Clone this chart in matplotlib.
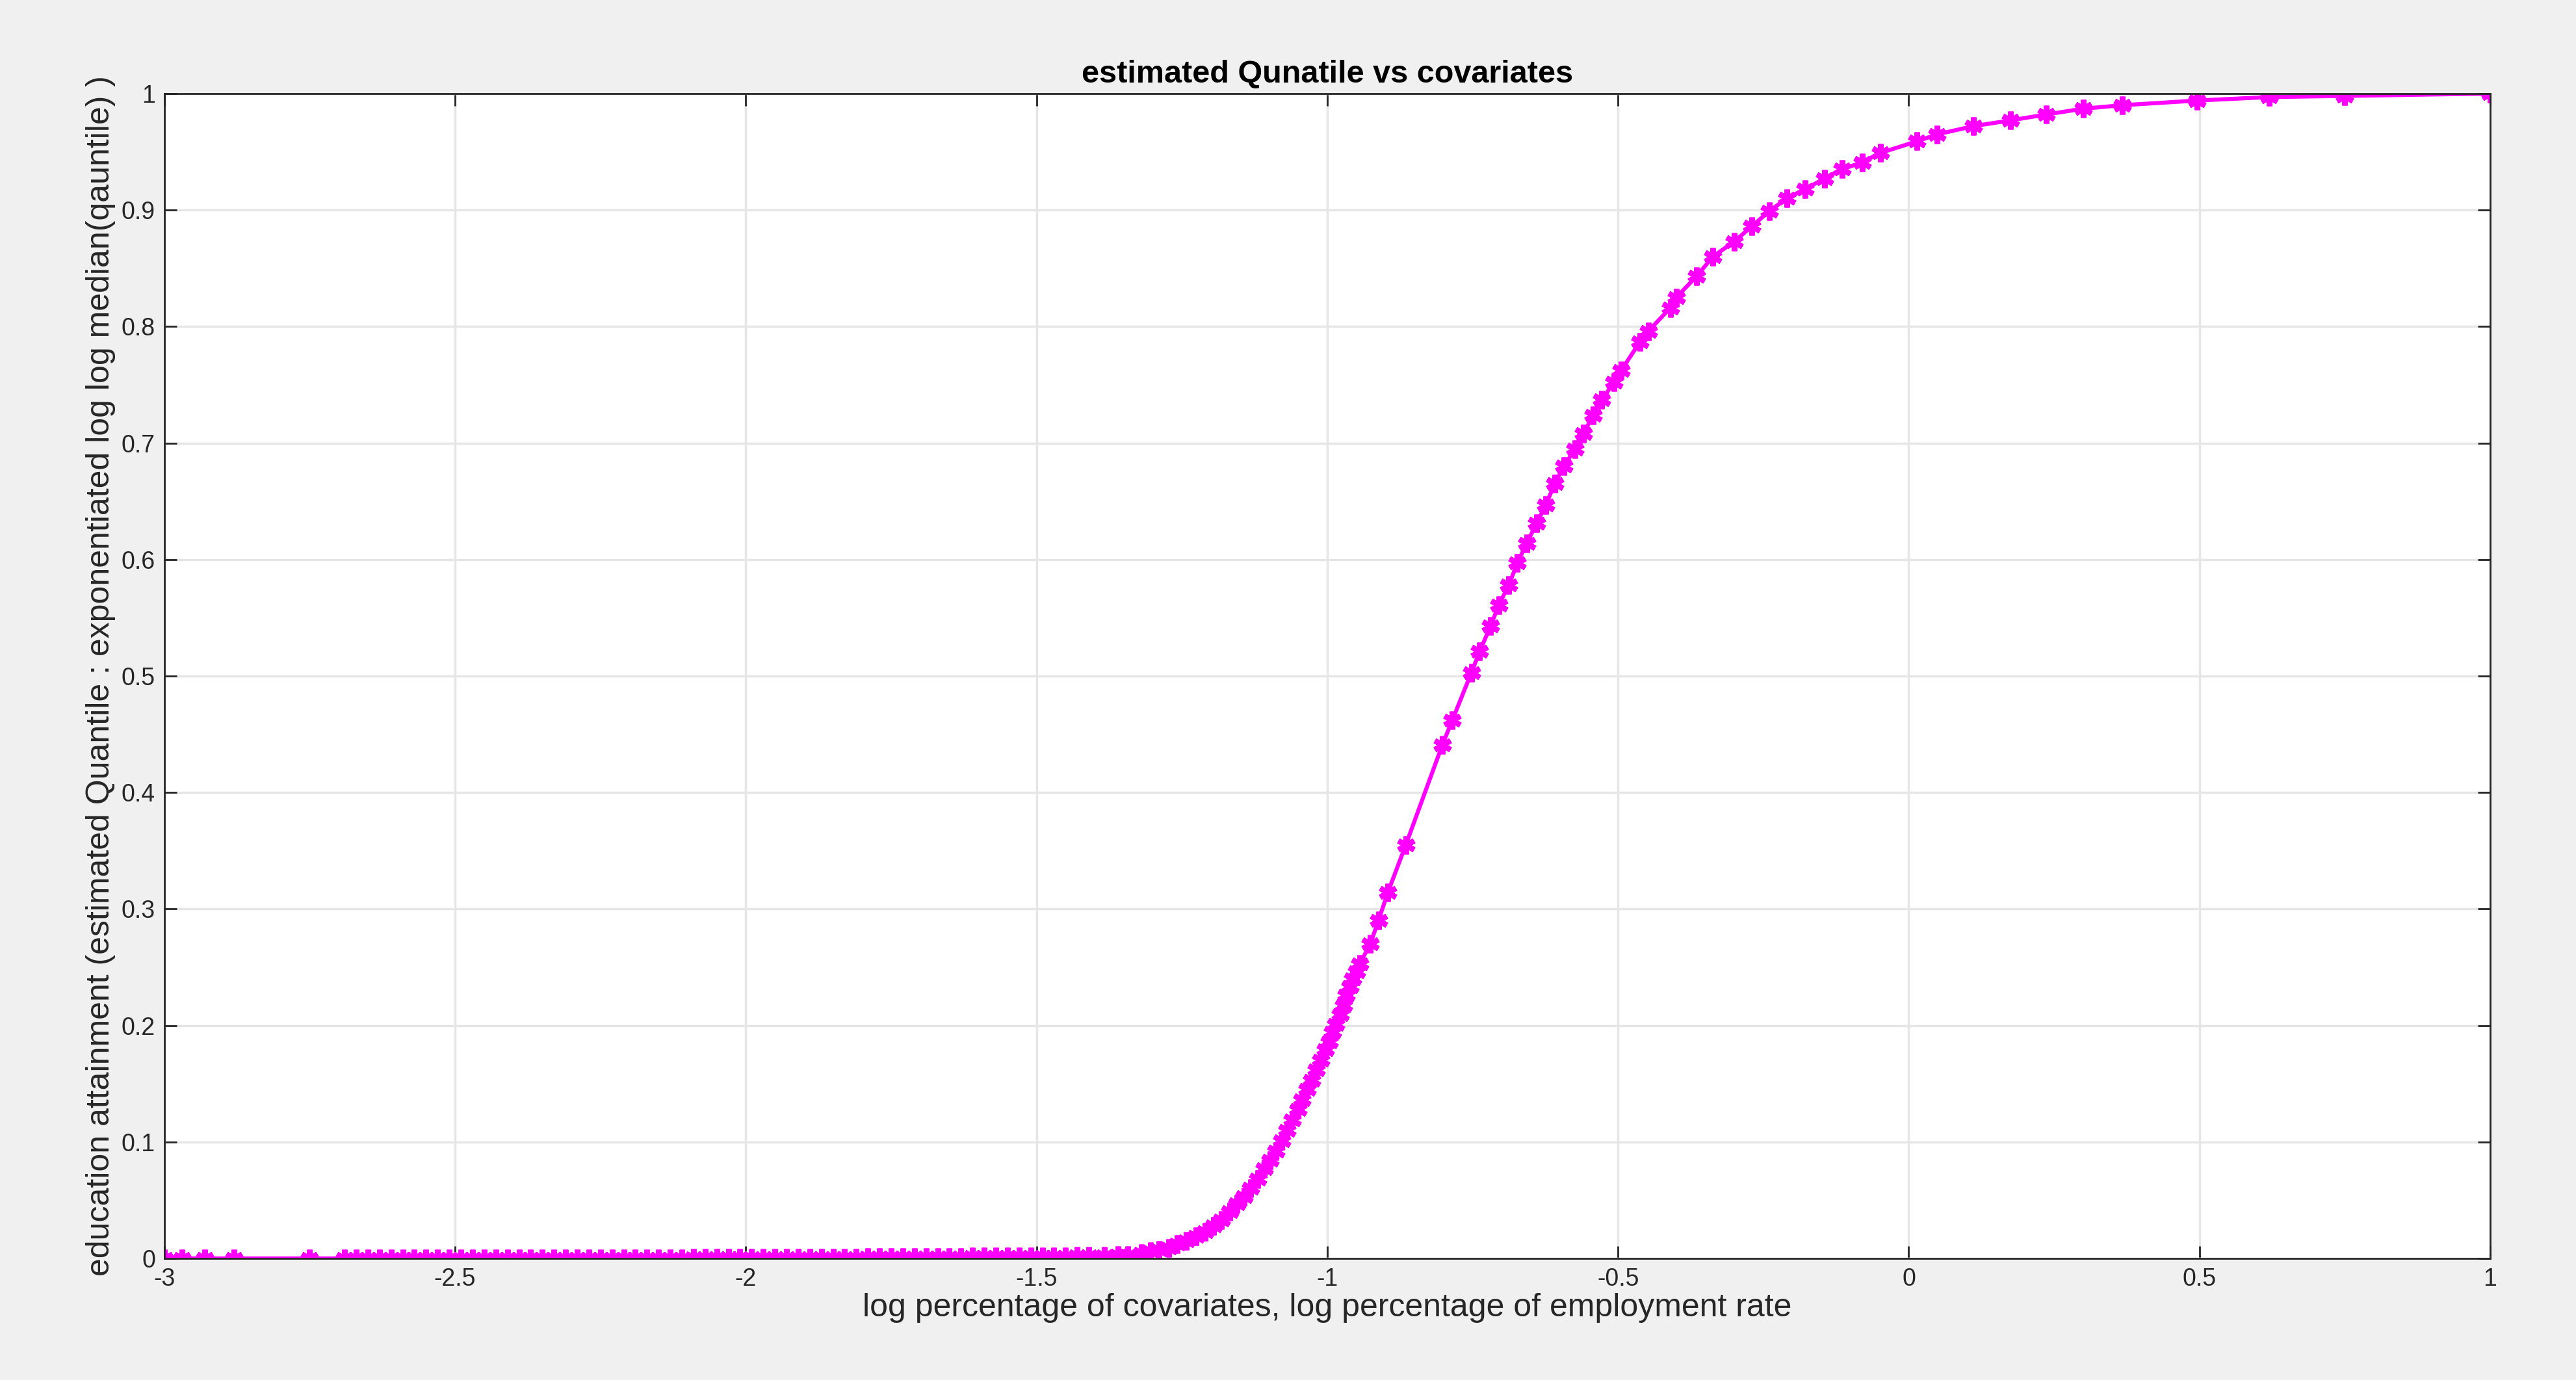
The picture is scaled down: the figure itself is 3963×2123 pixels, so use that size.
import matplotlib.pyplot as plt

# flat part on the left (quantile ~ 0)
x_flat = [-3.0, -2.97, -2.93, -2.88, -2.75,
          -2.69, -2.67, -2.65, -2.63, -2.61, -2.59, -2.57, -2.55, -2.53, -2.51,
          -2.49, -2.47, -2.45, -2.43, -2.41, -2.39, -2.37, -2.35, -2.33, -2.31,
          -2.29, -2.27, -2.25, -2.23, -2.21, -2.19, -2.17, -2.15, -2.13, -2.11,
          -2.09, -2.07, -2.05, -2.03, -2.01, -1.99, -1.97, -1.95, -1.93, -1.91,
          -1.89, -1.87, -1.85, -1.83, -1.81, -1.79, -1.77, -1.75, -1.73, -1.71,
          -1.69, -1.67, -1.65, -1.63, -1.61, -1.59, -1.57, -1.55, -1.53, -1.51,
          -1.49, -1.47, -1.45, -1.43, -1.41]
y_flat = [0.0, 0.0, 0.0, 0.0, 0.0,
          0.0, 0.0, 0.0, 0.0, 0.0, 0.0, 0.0, 0.0, 0.0, 0.0,
          0.0, 0.0, 0.0, 0.0, 0.0, 0.0, 0.0, 0.0, 0.0, 0.0,
          0.0, 0.0, 0.0, 0.0, 0.0, 0.0, 0.0, 0.0, 0.0, 0.0,
          0.0005, 0.0005, 0.0005, 0.0005, 0.0005, 0.0005, 0.0005, 0.0005, 0.0005, 0.0005,
          0.0005, 0.0005, 0.0005, 0.0005, 0.0005, 0.001, 0.001, 0.001, 0.001, 0.001,
          0.001, 0.001, 0.001, 0.001, 0.0015, 0.0015, 0.0015, 0.0015, 0.0015, 0.0015,
          0.0015, 0.0015, 0.0015, 0.002, 0.002]

# rising part and upper plateau
x_rise = [-1.383, -1.36, -1.343, -1.32, -1.304, -1.29, -1.273, -1.258, -1.242, -1.226,
          -1.21, -1.196, -1.182, -1.168, -1.155, -1.143, -1.132, -1.12, -1.108, -1.098,
          -1.088, -1.078, -1.069, -1.06, -1.05, -1.043, -1.035, -1.027, -1.019, -1.011,
          -1.003, -0.997, -0.991, -0.985, -0.978, -0.972, -0.967, -0.961, -0.956, -0.95,
          -0.944, -0.926, -0.912, -0.896, -0.865, -0.802, -0.785, -0.752, -0.738, -0.719,
          -0.705, -0.688, -0.673, -0.657, -0.64, -0.624, -0.609, -0.593, -0.574, -0.559,
          -0.543, -0.528, -0.507, -0.495, -0.462, -0.448, -0.41, -0.40, -0.365, -0.337,
          -0.30, -0.27, -0.24, -0.21, -0.178, -0.145, -0.115, -0.08, -0.049, 0.014,
          0.049, 0.111, 0.175, 0.236, 0.30, 0.367, 0.496, 0.62, 0.75, 1.0]
y_rise = [0.002, 0.0025, 0.003, 0.0045, 0.006, 0.0075, 0.009, 0.012, 0.015, 0.019,
          0.023, 0.028, 0.033, 0.04, 0.047, 0.053, 0.06, 0.068, 0.077, 0.084,
          0.092, 0.101, 0.11, 0.119, 0.128, 0.136, 0.145, 0.153, 0.162, 0.17,
          0.179, 0.186, 0.194, 0.201, 0.209, 0.217, 0.226, 0.233, 0.24, 0.246,
          0.253, 0.27, 0.29, 0.314, 0.355, 0.441, 0.462, 0.503, 0.521, 0.543,
          0.561, 0.578, 0.597, 0.614, 0.631, 0.647, 0.665, 0.68, 0.695, 0.708,
          0.724, 0.737, 0.752, 0.762, 0.787, 0.796, 0.816, 0.825, 0.843, 0.86,
          0.873, 0.886, 0.899, 0.91, 0.918, 0.927, 0.935, 0.941, 0.949, 0.959,
          0.965, 0.972, 0.977, 0.982, 0.987, 0.99, 0.994, 0.997, 0.998, 1.0]

x_vals = x_flat + x_rise
y_vals = y_flat + y_rise

x_ticks = [-3, -2.5, -2, -1.5, -1, -0.5, 0, 0.5, 1]
y_ticks = [0, 0.1, 0.2, 0.3, 0.4, 0.5, 0.6, 0.7, 0.8, 0.9, 1]

plt.rcParams['font.family'] = ['Liberation Sans', 'DejaVu Sans']

fig = plt.figure(figsize=(39.63, 21.23), dpi=100, facecolor='#f0f0f0')
ax = fig.add_axes([0.0638, 0.0881, 0.9029, 0.8441])

ax.plot(x_vals, y_vals, color='#ff00ff', linewidth=4.5,
        marker=(6, 2, 0), markersize=20, markeredgewidth=6)

ax.set_xlim(-3, 1)
ax.set_ylim(0, 1)
ax.set_xticks(x_ticks)
ax.set_xticklabels([f'{t:g}' for t in x_ticks])
ax.set_yticks(y_ticks)
ax.set_yticklabels([f'{t:g}' for t in y_ticks])
ax.grid(True, color='#e6e6e6', linewidth=2.5)
ax.set_axisbelow(True)
ax.tick_params(direction='in', length=14, width=2, labelsize=27,
               colors='#262626', top=True, right=True, pad=10)
for s in ax.spines.values():
    s.set_color('#262626')
    s.set_linewidth(2)

ax.set_title('estimated Qunatile vs covariates', fontsize=35,
             fontweight='bold', pad=12)
ax.set_xlabel('log percentage of covariates, log percentage of employment rate',
              fontsize=36, color='#262626', labelpad=2)
ax.set_ylabel('education attainment (estimated Quantile : exponentiated log log median(qauntile) )',
              fontsize=36, color='#262626', labelpad=6)

fig.savefig('out.png', facecolor=fig.get_facecolor())
